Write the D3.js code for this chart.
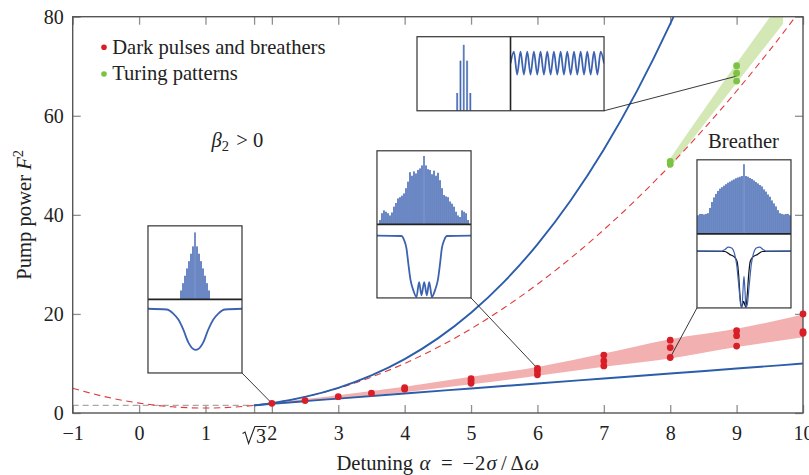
<!DOCTYPE html>
<html>
<head>
<meta charset="utf-8">
<script src="https://cdn.jsdelivr.net/npm/d3@7"></script>
<style>
  body { margin: 0; background: #fff; }
  svg { display: block; }
  svg text { font-family: "Liberation Serif", Tinos, "Times New Roman", Times, serif; fill: #222; }
</style>
</head>
<body>
<svg id="chart" width="809" height="475" font-family="Liberation Serif"></svg>
<script>
// ---------- axis ticks ----------
const SQRT3 = 1.732;
const xTickValues = [-1, 0, 1, 2, 3, 4, 5, 6, 7, 8, 9, 10];
const yTickValues = [0, 20, 40, 60, 80];

// ---------- threshold curves (detuning alpha, pump power F^2) ----------
// upper branch of the bistable region
const upperAlpha = [1.732, 1.8, 2, 2.5, 3, 3.5, 4, 4.5, 5, 5.5, 6, 6.5, 7, 7.5, 8, 8.1];
const upperF2    = [1.54, 1.64, 2.0, 3.26, 5.09, 7.59, 10.88, 15.06, 20.24, 26.53, 34.04, 42.89, 53.19, 65.03, 78.55, 81.46];
// lower branch of the bistable region
const lowerAlpha = [1.732, 1.8, 2, 2.5, 3, 4, 5, 6, 7, 8, 9, 10];
const lowerF2    = [1.54, 1.62, 1.85, 2.39, 2.91, 3.94, 4.95, 5.96, 6.96, 7.97, 8.97, 9.98];
// modulational instability threshold (dashed)
const miAlpha = [-1, -0.5, 0, 0.5, 1, 1.5, 2, 2.5, 3, 3.5, 4, 4.5, 5, 5.5, 6, 6.5, 7, 7.5, 8, 8.5, 9, 9.5, 10];
const miF2    = [5, 3.25, 2, 1.25, 1, 1.25, 2, 3.25, 5, 7.25, 10, 13.25, 17, 21.25, 26, 31.25, 37, 43.25, 50, 57.25, 65, 73.25, 82];
// cusp level (grey dashed)
const cuspF2 = 1.54;

// ---------- existence regions ----------
const darkBandAlpha = [1.732, 2, 3, 4, 5, 6, 7, 8, 9, 10];
const darkBandLow   = [1.54, 1.75, 2.95, 4.2, 5.8, 7.5, 9.35, 11.0, 13.3, 15.3];
const darkBandHigh  = [1.54, 2.05, 3.6, 5.3, 7.3, 9.3, 12.0, 14.9, 17.0, 19.9];
const turingBandAlpha = [8, 9, 9.7];
const turingBandLow   = [49.6, 66.6, 78.6];
const turingBandHigh  = [51.4, 70.6, 83.6];

// ---------- simulation points ----------
const darkAlpha = [2, 2.5, 3, 3.5, 4, 4, 5, 5, 5, 6, 6, 6, 7, 7, 7, 8, 8, 8, 9, 9, 9, 10, 10, 10];
const darkF2    = [1.95, 2.5, 3.3, 4.0, 4.8, 5.1, 6.0, 6.5, 6.95, 7.7, 8.5, 9.0, 9.5, 10.5, 11.7, 11.2, 13.2, 14.7, 13.5, 15.6, 16.6, 16.1, 16.4, 20.0];
const turingAlpha = [8, 8, 9, 9, 9];
const turingF2    = [50.2, 50.8, 67.0, 68.6, 70.1];

// ---------- inset contents ----------
// inset A: single dark pulse
const specA = [0.12, 0.22, 0.32, 0.42, 0.52, 0.62, 0.72, 0.91, 0.72, 0.62, 0.52, 0.42, 0.32, 0.22, 0.12];
const waveAt = [0, 0.199, 0.269, 0.323, 0.376, 0.429, 0.482, 0.508, 0.535, 0.588, 0.641, 0.695, 0.748, 0.819, 1];
const waveAv = [0.873, 0.863, 0.808, 0.726, 0.589, 0.415, 0.325, 0.315, 0.325, 0.415, 0.589, 0.726, 0.808, 0.863, 0.873];
// inset B: wide dark pulse with oscillating core
const specB = [0.06, 0.15, 0.19, 0.17, 0.15, 0.12, 0.16, 0.24, 0.29, 0.35, 0.37, 0.39, 0.42, 0.49, 0.58, 0.71, 0.66, 0.72, 0.69, 0.74, 0.76, 0.80,
               0.93,
               0.80, 0.75, 0.74, 0.68, 0.73, 0.66, 0.70, 0.60, 0.49, 0.40, 0.38, 0.37, 0.31, 0.28, 0.24, 0.17, 0.12, 0.10, 0.19, 0.17, 0.15, 0.06];
const waveBt = [0, 0.260, 0.288, 0.313, 0.335, 0.356, 0.384, 0.420, 0.448, 0.473, 0.502, 0.530, 0.555, 0.584, 0.619, 0.648, 0.669, 0.690, 0.715, 0.744, 1];
const waveBv = [0.847, 0.842, 0.788, 0.676, 0.450, 0.248, 0.113, 0.014, 0.216, 0.036, 0.216, 0.036, 0.216, 0.014, 0.113, 0.248, 0.450, 0.676, 0.788, 0.842, 0.847];
// inset C: Turing pattern
const specC = [0.24, 0.676, 0.89, 0.676, 0.24];
const waveCt = [0, 0.036, 0.071, 0.107, 0.143, 0.179, 0.214, 0.25, 0.286, 0.321, 0.357, 0.393, 0.429, 0.464, 0.5,
                0.536, 0.571, 0.607, 0.643, 0.679, 0.714, 0.75, 0.786, 0.821, 0.857, 0.893, 0.929, 0.964, 1.0];
const waveCv = [0.64, 0.80, 0.49, 0.80, 0.49, 0.80, 0.49, 0.80, 0.49, 0.80, 0.49, 0.80, 0.49, 0.80, 0.49,
                0.80, 0.49, 0.80, 0.49, 0.80, 0.49, 0.80, 0.49, 0.80, 0.49, 0.80, 0.49, 0.80, 0.64];
// inset D: breather (two snapshots)
const specD = [0.25, 0.27, 0.27, 0.26, 0.27, 0.28,
               0.35, 0.43, 0.49, 0.54, 0.58, 0.61, 0.63, 0.65, 0.67, 0.69, 0.705, 0.72, 0.735, 0.75, 0.76, 0.77, 0.78,
               0.94,
               0.78, 0.77, 0.755, 0.74, 0.72, 0.70, 0.68, 0.66, 0.64, 0.60, 0.57, 0.53, 0.50, 0.45, 0.41, 0.37, 0.32, 0.28,
               0.27, 0.26, 0.27, 0.27, 0.25];
const waveDt1 = [0, 0.262, 0.298, 0.333, 0.369, 0.397, 0.422, 0.447, 0.465, 0.479, 0.489, 0.5, 0.511, 0.521, 0.535, 0.553, 0.578, 0.603, 0.631, 0.667, 0.702, 0.738, 1];
const waveDv1 = [0.766, 0.766, 0.79, 0.82, 0.81, 0.743, 0.586, 0.27, 0.045, 0.01, 0.225, 0.428, 0.225, 0.01, 0.045, 0.27, 0.586, 0.743, 0.81, 0.82, 0.79, 0.766, 0.766];
const waveDt2 = [0, 0.298, 0.351, 0.397, 0.426, 0.443, 0.457, 0.472, 0.486, 0.496, 0.507, 0.521, 0.535, 0.55, 0.567, 0.596, 0.642, 0.695, 1];
const waveDv2 = [0.766, 0.762, 0.72, 0.69, 0.63, 0.45, 0.18, 0.01, 0.05, 0.09, 0.05, 0.01, 0.18, 0.45, 0.63, 0.69, 0.72, 0.762, 0.766];

// ---------- layout ----------
const SERIF = "Liberation Serif";
const FS = 20.6;           // label font size
const svg = d3.select("#chart");
const plot = { left: 72.7, right: 803, top: 16.7, bottom: 413 };
const x = d3.scaleLinear().domain([-1, 10]).range([plot.left, plot.right]);
const y = d3.scaleLinear().domain([0, 80]).range([plot.bottom, plot.top]);

const C = {
  blue: "#2b5dab", red: "#d81e27", redDash: "#e03a3e", redBand: "#f2b0b0",
  green: "#7cc243", greenBand: "#d4e8b6", frame: "#555", tick: "#8f8f8f",
  specLight: "#a6b9e0", specDark: "#4467b1", wave: "#3d62b0"
};

svg.append("defs").append("clipPath").attr("id", "plotClip")
  .append("rect").attr("x", plot.left).attr("y", plot.top)
  .attr("width", plot.right - plot.left).attr("height", plot.bottom - plot.top);

const zip = (a, b) => a.map((v, i) => [v, b[i]]);
const lineXY = d3.line().x(d => x(d[0])).y(d => y(d[1])).curve(d3.curveMonotoneX);

// ---------- axes (ticks point inward on all four sides) ----------
const allX = xTickValues.concat([SQRT3]);
const fmt = d => d < 0 ? "\u2212" + Math.abs(d) : String(d);

const gB = svg.append("g").attr("transform", `translate(0,${plot.bottom})`)
  .call(d3.axisBottom(x).tickValues(allX).tickSizeInner(-8).tickSizeOuter(0).tickPadding(13)
    .tickFormat(d => d === SQRT3 ? "" : fmt(d)));
const gT = svg.append("g").attr("transform", `translate(0,${plot.top})`)
  .call(d3.axisTop(x).tickValues(allX).tickSizeInner(-8).tickSizeOuter(0).tickFormat(""));
const gL = svg.append("g").attr("transform", `translate(${plot.left},0)`)
  .call(d3.axisLeft(y).tickValues(yTickValues).tickSizeInner(-8).tickSizeOuter(0).tickPadding(9));
const gR = svg.append("g").attr("transform", `translate(${plot.right},0)`)
  .call(d3.axisRight(y).tickValues(yTickValues).tickSizeInner(-8).tickSizeOuter(0).tickFormat(""));

[gB, gT, gL, gR].forEach(g => {
  g.attr("font-family", SERIF).attr("font-size", 20);
  g.select(".domain").remove();
  g.selectAll(".tick line").attr("stroke", C.tick).attr("stroke-width", 1.3);
  g.selectAll(".tick text").attr("font-family", SERIF).attr("font-size", 20).attr("fill", "#222");
});

// sqrt(3) tick label
const s3 = x(SQRT3);
svg.append("path")
  .attr("d", `M${s3 - 11.5},${433.5} L${s3 - 9},${432} L${s3 - 5.5},${443.5} L${s3 + 0.8},${426.5} L${s3 + 12.3},${426.5}`)
  .attr("fill", "none").attr("stroke", "#222").attr("stroke-width", 1.1);
svg.append("text").attr("x", s3 + 7).attr("y", 442.5).attr("text-anchor", "middle")
  .attr("font-family", SERIF).attr("font-size", 20).text("3");

// ---------- regions ----------
const gPlot = svg.append("g").attr("clip-path", "url(#plotClip)");

gPlot.append("line")
  .attr("x1", x(-1)).attr("x2", x(SQRT3)).attr("y1", y(cuspF2)).attr("y2", y(cuspF2))
  .attr("stroke", "#a8a8a8").attr("stroke-width", 1.2).attr("stroke-dasharray", "6,4");

const band = (xs, lo, hi) => d3.area().x((d, i) => x(xs[i])).y0((d, i) => y(lo[i])).y1((d, i) => y(hi[i]))
  .curve(d3.curveMonotoneX)(xs);

gPlot.append("path").attr("d", band(darkBandAlpha, darkBandLow, darkBandHigh)).attr("fill", C.redBand);
gPlot.append("path").attr("d", band(turingBandAlpha, turingBandLow, turingBandHigh)).attr("fill", C.greenBand);

// ---------- curves ----------
gPlot.append("path").attr("d", lineXY(zip(miAlpha, miF2)))
  .attr("fill", "none").attr("stroke", C.redDash).attr("stroke-width", 1.1).attr("stroke-dasharray", "6.5,4.5");
gPlot.append("path").attr("d", lineXY(zip(lowerAlpha, lowerF2)))
  .attr("fill", "none").attr("stroke", C.blue).attr("stroke-width", 1.9);
gPlot.append("path").attr("d", lineXY(zip(upperAlpha, upperF2)))
  .attr("fill", "none").attr("stroke", C.blue).attr("stroke-width", 1.9);

// ---------- frame ----------
svg.append("rect").attr("x", plot.left).attr("y", plot.top)
  .attr("width", plot.right - plot.left).attr("height", plot.bottom - plot.top)
  .attr("fill", "none").attr("stroke", C.frame).attr("stroke-width", 1.4);

// ---------- insets ----------
const insets = [
  { id: "A", x0: 0.134, x1: 1.550, yT: 37.78, yB: 8.08, split: "h", target: [2, 1.95], corner: "br" },
  { id: "B", x0: 3.583, x1: 5.000, yT: 52.93, yB: 23.23, split: "h", target: [6, 9.0], corner: "br" },
  { id: "C", x0: 4.186, x1: 7.003, yT: 75.96, yB: 61.01, split: "v", target: [9, 68.0], corner: "br" },
  { id: "D", x0: 8.403, x1: 9.819, yT: 51.11, yB: 21.21, split: "h", target: [8, 11.2], corner: "bl" }
];

// connector lines
const gConn = svg.append("g");
insets.forEach(b => {
  const cx = b.corner === "br" ? x(b.x1) : x(b.x0);
  gConn.append("line").attr("x1", cx).attr("y1", y(b.yB))
    .attr("x2", x(b.target[0])).attr("y2", y(b.target[1]))
    .attr("stroke", "#222").attr("stroke-width", 0.9);
});

// ---------- points ----------
svg.append("g").selectAll("circle").data(zip(darkAlpha, darkF2)).join("circle")
  .attr("cx", d => x(d[0])).attr("cy", d => y(d[1])).attr("r", 3.4).attr("fill", C.red);
svg.append("g").selectAll("circle").data(zip(turingAlpha, turingF2)).join("circle")
  .attr("cx", d => x(d[0])).attr("cy", d => y(d[1])).attr("r", 3.4).attr("fill", C.green);

function drawSpectrum(g, p, heights, halfRange, barW) {
  const half = (heights.length - 1) / 2;
  const xs = d3.scaleLinear().domain([-halfRange, halfRange]).range([p.L, p.R]);
  const hs = d3.scaleLinear().domain([0, 1]).range([p.B, p.T]);
  const modes = heights.map((h, i) => ({ k: i - half, h }));
  g.selectAll(null).data(modes).join("rect")
    .attr("x", d => xs(d.k) - barW / 2).attr("width", barW)
    .attr("y", d => hs(d.h)).attr("height", d => p.B - hs(d.h))
    .attr("fill", C.specLight);
  g.selectAll(null).data(modes).join("line")
    .attr("x1", d => xs(d.k)).attr("x2", d => xs(d.k))
    .attr("y1", p.B).attr("y2", d => hs(d.h))
    .attr("stroke", C.specDark).attr("stroke-width", d => d.k === 0 ? 1.0 : 1.2);
}

function drawWave(g, p, ts, vs, color, width) {
  const xs = d3.scaleLinear().domain([0, 1]).range([p.L, p.R]);
  const ys = d3.scaleLinear().domain([0, 1]).range([p.B, p.T]);
  g.append("path")
    .attr("d", d3.line().x(d => xs(d[0])).y(d => ys(d[1])).curve(d3.curveMonotoneX)(zip(ts, vs)))
    .attr("fill", "none").attr("stroke", color).attr("stroke-width", width);
}

const insetContent = {
  A: (top, bot) => { drawSpectrum(top.g, top.p, specA, 23.5, 2.0); drawWave(bot.g, bot.p, waveAt, waveAv, C.wave, 1.8); },
  B: (top, bot) => { drawSpectrum(top.g, top.p, specB, 23.5, 2.0); drawWave(bot.g, bot.p, waveBt, waveBv, C.wave, 1.8); },
  C: (left, right) => { drawSpectrum(left.g, left.p, specC, 14.2, 2.2); drawWave(right.g, right.p, waveCt, waveCv, C.wave, 1.8); },
  D: (top, bot) => {
    drawSpectrum(top.g, top.p, specD, 23.5, 2.0);
    drawWave(bot.g, bot.p, waveDt2, waveDv2, "#111", 1.2);
    drawWave(bot.g, bot.p, waveDt1, waveDv1, C.wave, 1.2);
  }
};

insets.forEach(b => {
  const L = x(b.x0), R = x(b.x1), T = y(b.yT), B = y(b.yB);
  const g = svg.append("g");
  g.append("rect").attr("x", L).attr("y", T).attr("width", R - L).attr("height", B - T).attr("fill", "#fff");
  let p1, p2, div;
  if (b.split === "h") {
    const m = (T + B) / 2;
    p1 = { L, R, T, B: m }; p2 = { L, R, T: m, B };
    div = [L, m, R, m];
  } else {
    const m = (L + R) / 2;
    p1 = { L, R: m, T, B }; p2 = { L: m, R, T, B };
    div = [m, T, m, B];
  }
  const mk = (p, i) => {
    const cid = `clip${b.id}${i}`;
    svg.select("defs").append("clipPath").attr("id", cid)
      .append("rect").attr("x", p.L).attr("y", p.T).attr("width", p.R - p.L).attr("height", p.B - p.T);
    return { g: g.append("g").attr("clip-path", `url(#${cid})`), p };
  };
  insetContent[b.id](mk(p1, 1), mk(p2, 2));
  g.append("line").attr("x1", div[0]).attr("y1", div[1]).attr("x2", div[2]).attr("y2", div[3])
    .attr("stroke", "#222").attr("stroke-width", 1.6);
  g.append("rect").attr("x", L).attr("y", T).attr("width", R - L).attr("height", B - T)
    .attr("fill", "none").attr("stroke", "#333").attr("stroke-width", 1.2);
});

// ---------- legend ----------
const legend = [
  { label: "Dark pulses and breathers", color: C.red, y: 47.3 },
  { label: "Turing patterns", color: C.green, y: 74 }
];
const gLeg = svg.append("g");
legend.forEach(l => {
  gLeg.append("circle").attr("cx", 104).attr("cy", l.y).attr("r", 2.8).attr("fill", l.color);
  gLeg.append("text").attr("x", 112.2).attr("y", l.y + 6.2)
    .attr("font-family", SERIF).attr("font-size", FS).text(l.label);
});

// ---------- annotations ----------
const beta = svg.append("text").attr("x", 211.5).attr("y", 146.7)
  .attr("font-family", SERIF).attr("font-size", FS);
beta.append("tspan").attr("font-style", "italic").text("\u03B2");
beta.append("tspan").attr("font-size", 14.5).attr("dy", 4).text("2");
beta.append("tspan").attr("dy", -4).attr("dx", 2).text(" > 0");

svg.append("text").attr("x", 743.5).attr("y", 148.3).attr("text-anchor", "middle")
  .attr("font-family", SERIF).attr("font-size", FS).text("Breather");

// axis titles (math set with TeX-like spacing)
const xt = svg.append("text").attr("y", 469.5).attr("font-family", SERIF).attr("font-size", FS);
[
  { t: "Detuning", x: 336.5 },
  { t: "\u03B1", x: 419.5, it: true },
  { t: "=", x: 441 },
  { t: "\u2212", x: 462.5 },
  { t: "2", x: 475 },
  { t: "\u03C3", x: 486.5, it: true },
  { t: "/", x: 501 },
  { t: "\u0394", x: 510.5 },
  { t: "\u03C9", x: 524.5, it: true }
].forEach(s => {
  xt.append("tspan").attr("x", s.x).attr("font-style", s.it ? "italic" : null).text(s.t);
});

const yt = svg.append("text").attr("transform", `translate(31,${(plot.top + plot.bottom) / 2}) rotate(-90)`)
  .attr("text-anchor", "middle").attr("font-family", SERIF).attr("font-size", FS);
yt.append("tspan").text("Pump power ");
yt.append("tspan").attr("font-style", "italic").text("F");
yt.append("tspan").attr("font-size", 14.5).attr("dy", -8).text("2");
</script>
</body>
</html>
